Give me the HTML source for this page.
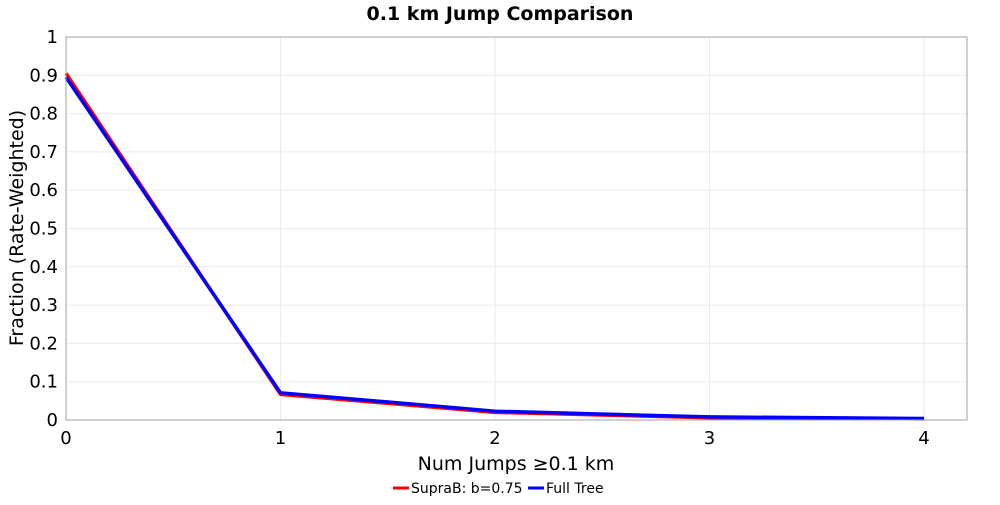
<!DOCTYPE html>
<html><head><meta charset="utf-8"><style>
body{margin:0;background:#fff;font-family:"Liberation Sans","DejaVu Sans",sans-serif}
</style></head><body>
<svg id="chart" width="1000" height="500" xmlns="http://www.w3.org/2000/svg" font-family="DejaVu Sans, Liberation Sans, sans-serif">
<rect width="1000" height="500" fill="#fff"/>
<text x="500" y="20" text-anchor="middle" font-size="19" font-weight="bold">0.1 km Jump Comparison</text>
<g id="grid"></g>
<g id="axes"></g>
<g id="series"></g>
<rect x="66" y="37" width="901" height="383" fill="none" stroke="#a0a0a0" stroke-width="1"/>
<text x="516" y="470" text-anchor="middle" font-size="19">Num Jumps ≥0.1 km</text>
<text transform="translate(23,228) rotate(-90)" text-anchor="middle" font-size="19">Fraction (Rate-Weighted)</text>
<g>
<line x1="393" y1="488" x2="409" y2="488" stroke="#f00" stroke-width="3"/>
<text x="411" y="493" font-size="14">SupraB: b=0.75</text>
<line x1="528" y1="488" x2="544" y2="488" stroke="#00f" stroke-width="3"/>
<text x="546" y="493" font-size="14">Full Tree</text>
</g>
</svg>
<script>
const categories = [0, 1, 2, 3, 4];
const supraValues = [0.905, 0.067, 0.020, 0.006, 0.003];
const fullValues = [0.895, 0.071, 0.023, 0.008, 0.004];
const yTicks = [0, 0.1, 0.2, 0.3, 0.4, 0.5, 0.6, 0.7, 0.8, 0.9, 1];
const yTickLabels = ["0","0.1","0.2","0.3","0.4","0.5","0.6","0.7","0.8","0.9","1"];
const xTicks = [0, 1, 2, 3, 4];

const NS = "http://www.w3.org/2000/svg";
const L = 66, R = 967, T = 37, B = 420;
const xs = v => L + v / 4 * (924 - L);
const ys = v => B - v * (B - T);
const grid = document.getElementById('grid');
const axes = document.getElementById('axes');
function mk(tag, attrs, parent){const e=document.createElementNS(NS,tag);for(const k in attrs)e.setAttribute(k,attrs[k]);parent.appendChild(e);return e;}
yTicks.forEach((v,i)=>{
  const g = mk('line',{x1:L,x2:R,y1:ys(v),y2:ys(v),stroke:'#ebebeb','stroke-width':1},grid);
  
  
  const t = mk('text',{x:L-8,y:ys(v)+6,'text-anchor':'end','font-size':18},axes);
  t.textContent = yTickLabels[i];
  
  
});
xTicks.forEach(v=>{
  const g = mk('line',{x1:xs(v),x2:xs(v),y1:T,y2:B,stroke:'#ebebeb','stroke-width':1},grid);
  
  
  const t = mk('text',{x:xs(v),y:B+24,'text-anchor':'middle','font-size':18},axes);
  t.textContent = String(v);
  
  
});
const series = document.getElementById('series');
function line(vals,color,name){
  const pts = categories.map((c,i)=>xs(c)+','+ys(vals[i])).join(' ');
  const p = mk('polyline',{points:pts,fill:'none',stroke:color,'stroke-width':3.5,'stroke-linejoin':'round'},series);
  
  
}
line(supraValues,'#f00','supra-line');
line(fullValues,'#00f','full-tree-line');
</script>
</body></html>
